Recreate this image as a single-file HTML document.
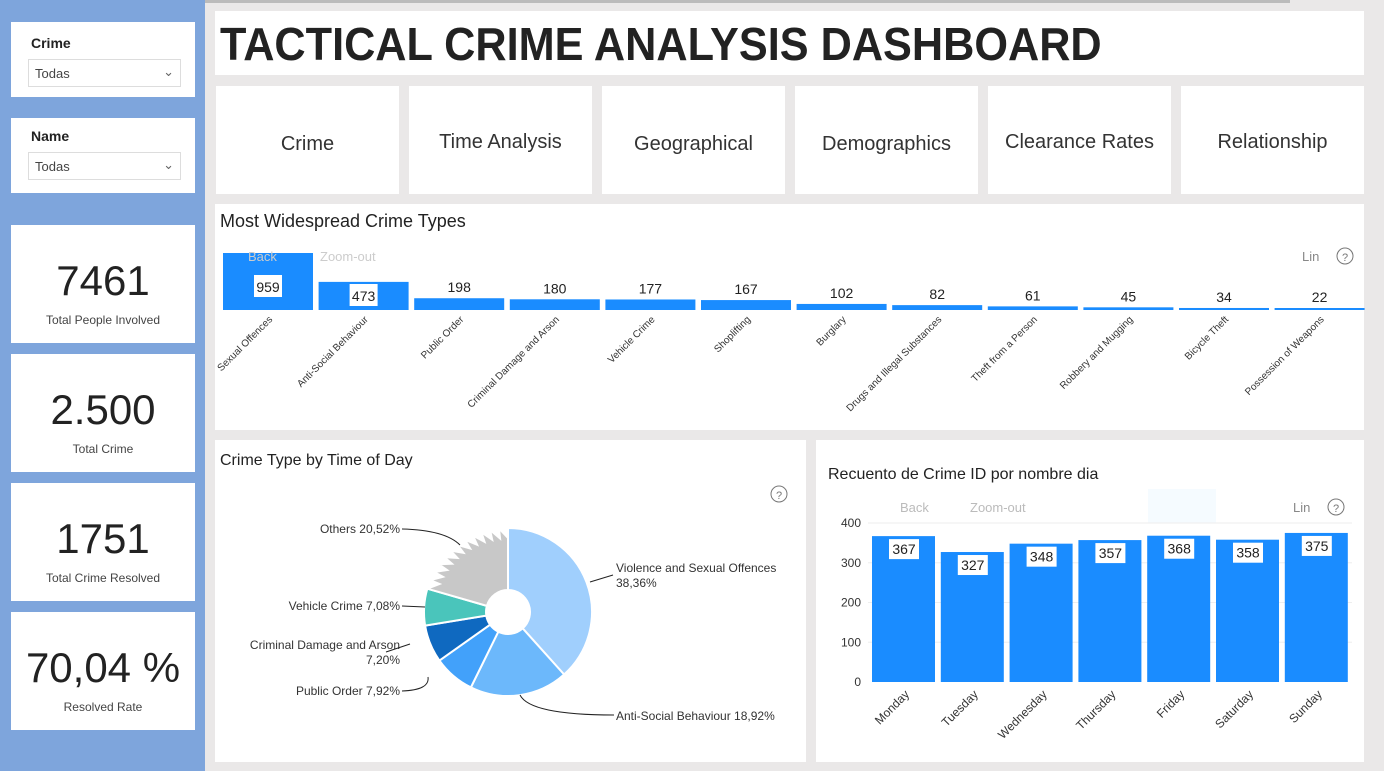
<!DOCTYPE html>
<html><head><meta charset="utf-8"><style>
body{margin:0;width:1384px;height:771px;background:#eae8e8;font-family:"Liberation Sans",sans-serif;position:relative;overflow:hidden}
.abs{position:absolute}
.card{position:absolute;background:#fff}
.side{position:absolute;left:0;top:0;width:205px;height:771px;background:#7ea5dc}
.sl{font-size:14px;font-weight:bold;color:#222}
.dd{position:absolute;left:17px;width:153px;height:28px;border:1px solid #ddd;font-size:13px;color:#444;line-height:28px;box-sizing:border-box;padding-left:6px}
.kpi{text-align:center}
.kpi .v{font-size:42px;color:#222;margin-top:32px;font-family:"Liberation Sans",sans-serif}
.kpi .l{font-size:12px;color:#444;margin-top:8px}
.nav{font-size:20px;color:#333;text-align:center}
</style></head><body>
<div class="side"></div>
<div class="card" style="left:11px;top:22px;width:184px;height:75px"><div class="sl abs" style="left:20px;top:13px">Crime</div><div class="dd" style="top:37px">Todas<span style="position:absolute;right:6px;top:-2px;color:#666">&#8964;</span></div></div>
<div class="card" style="left:11px;top:118px;width:184px;height:75px"><div class="sl abs" style="left:20px;top:10px">Name</div><div class="dd" style="top:34px">Todas<span style="position:absolute;right:6px;top:-2px;color:#666">&#8964;</span></div></div>
<div class="card kpi" style="left:11px;top:225px;width:184px;height:118px"><div class="v">7461</div><div class="l">Total People Involved</div></div>
<div class="card kpi" style="left:11px;top:354px;width:184px;height:118px"><div class="v">2.500</div><div class="l">Total Crime</div></div>
<div class="card kpi" style="left:11px;top:483px;width:184px;height:118px"><div class="v">1751</div><div class="l">Total Crime Resolved</div></div>
<div class="card kpi" style="left:11px;top:612px;width:184px;height:118px"><div class="v">70,04 %</div><div class="l">Resolved Rate</div></div>
<div class="abs" style="left:205px;top:0;width:1085px;height:3px;background:#bbb"></div>
<div class="card" style="left:215px;top:11px;width:1149px;height:64px"><div class="abs" style="left:5px;top:6px;font-size:46px;font-weight:bold;color:#222;transform:scaleX(0.94);transform-origin:0 0;white-space:nowrap">TACTICAL CRIME ANALYSIS DASHBOARD</div></div>
<div class="card nav" style="left:216px;top:86px;width:183px;height:108px;line-height:116px">Crime</div>
<div class="card nav" style="left:409px;top:86px;width:183px;height:108px;line-height:112px">Time Analysis</div>
<div class="card nav" style="left:602px;top:86px;width:183px;height:108px;line-height:116px">Geographical</div>
<div class="card nav" style="left:795px;top:86px;width:183px;height:108px;line-height:116px">Demographics</div>
<div class="card nav" style="left:988px;top:86px;width:183px;height:108px;line-height:112px">Clearance Rates</div>
<div class="card nav" style="left:1181px;top:86px;width:183px;height:108px;line-height:112px">Relationship</div>
<div class="card" style="left:215px;top:204px;width:1149px;height:226px"></div>
<div class="card" style="left:215px;top:440px;width:591px;height:322px"></div>
<div class="card" style="left:816px;top:440px;width:548px;height:322px"></div>
<svg class="abs" style="left:0;top:0" width="1384" height="771" font-family="Liberation Sans,sans-serif">
<text x="220" y="227" font-size="18" fill="#222">Most Widespread Crime Types</text>
<g fill="#1a8cff" id="bars"></g>
<text x="248" y="261" font-size="13" fill="#ccc">Back</text><text x="320" y="261" font-size="13" fill="#ccc">Zoom-out</text>
<text x="1302" y="261" font-size="13" fill="#888">Lin</text><circle cx="1345" cy="256" r="8" fill="none" stroke="#777"/><text x="1345" y="261" font-size="11" fill="#777" text-anchor="middle">?</text>
<text x="220" y="465" font-size="16" fill="#222">Crime Type by Time of Day</text>
<circle cx="779" cy="494" r="8" fill="none" stroke="#777"/><text x="779" y="499" font-size="11" fill="#777" text-anchor="middle">?</text>
<g id="pie"></g>
<g font-size="12" fill="#333">
<text x="400" y="533" text-anchor="end">Others 20,52%</text>
<text x="400" y="610" text-anchor="end">Vehicle Crime 7,08%</text>
<text x="400" y="649" text-anchor="end">Criminal Damage and Arson</text>
<text x="400" y="664" text-anchor="end">7,20%</text>
<text x="400" y="695" text-anchor="end">Public Order 7,92%</text>
<text x="616" y="572">Violence and Sexual Offences</text>
<text x="616" y="587">38,36%</text>
<text x="616" y="720">Anti-Social Behaviour 18,92%</text>
</g>
<g fill="none" stroke="#222" stroke-width="1">
<path d="M402 529 Q445 530 460 545"/><path d="M402 606 L425 607"/><path d="M386 652 L410 644"/><path d="M402 691 Q430 690 428 677"/><path d="M613 575 L590 582"/><path d="M614 715 Q530 715 520 695"/>
</g>
<text x="828" y="479" font-size="16" fill="#222">Recuento de Crime ID por nombre dia</text>
<rect x="1148" y="489" width="68" height="34" fill="#f5fbff"/>
<text x="900" y="512" font-size="13" fill="#bbb">Back</text><text x="970" y="512" font-size="13" fill="#bbb">Zoom-out</text>
<text x="1293" y="512" font-size="13" fill="#888">Lin</text><circle cx="1336" cy="507" r="8" fill="none" stroke="#777"/><text x="1336" y="512" font-size="11" fill="#777" text-anchor="middle">?</text>
<g id="r"></g>
</svg>
<script>
const ns="http://www.w3.org/2000/svg";
function el(p,t,a,txt){const e=document.createElementNS(ns,t);for(const k in a)e.setAttribute(k,a[k]);if(txt!=null)e.textContent=txt;p.appendChild(e);return e;}
const b=document.getElementById('bars');
const names=["Sexual Offences","Anti-Social Behaviour","Public Order","Criminal Damage and Arson","Vehicle Crime","Shoplifting","Burglary","Drugs and Illegal Substances","Theft from a Person","Robbery and Mugging","Bicycle Theft","Possession of Weapons"];
const vals=[959,473,198,180,177,167,102,82,61,45,34,22];
vals.forEach((v,i)=>{const x=223+i*95.6,h=Math.max(2,v*57/959),y=310-h;
el(b,'rect',{x:x,y:y,width:90,height:h});
if(i<2){el(b,'rect',{x:x+31,y:i?284:275,width:28,height:22,fill:'#fff'});el(b,'text',{x:x+45,y:i?301:292,'font-size':14,fill:'#222','text-anchor':'middle'},v);}
else el(b,'text',{x:x+45,y:y-6,'font-size':14,fill:'#222','text-anchor':'middle'},v);
el(b,'text',{x:x+50,y:320,'font-size':10,fill:'#333','text-anchor':'end',transform:`rotate(-45 ${x+50} 320)`},names[i]);});
const pie=document.getElementById('pie');const cx=508,cy=612,R=84,r0=22;
const sl=[[38.36,'#a0cffd'],[18.92,'#6cb8fb'],[7.92,'#42a1fa'],[7.20,'#0f69c0'],[7.08,'#4ac5bb']];
let a=0;function pt(ang,rr){const t=(ang-90)*Math.PI/180;return [cx+rr*Math.cos(t),cy+rr*Math.sin(t)];}
sl.forEach(([p,c])=>{const a2=a+p*3.6;const [x1,y1]=pt(a,R),[x2,y2]=pt(a2,R),[x3,y3]=pt(a2,r0),[x4,y4]=pt(a,r0);const lg=(a2-a)>180?1:0;
el(pie,'path',{d:`M${x1} ${y1} A${R} ${R} 0 ${lg} 1 ${x2} ${y2} L${x3} ${y3} A${r0} ${r0} 0 ${lg} 0 ${x4} ${y4}Z`,fill:c,stroke:'#fff','stroke-width':2});a=a2;});
let d='';const [sx,sy]=pt(a,r0);d=`M${sx} ${sy}`;const n=12;for(let i=0;i<=n;i++){const ang=a+(360-a)*i/n;const [x,y]=pt(ang,R);const [xi,yi]=pt(ang,R-10);d+=` L${xi} ${yi} L${x} ${y}`;}
const [ex,ey]=pt(360,r0);d+=` L${ex} ${ey} A${r0} ${r0} 0 0 0 ${sx} ${sy}Z`;
el(pie,'path',{d:d,fill:'#c8c8c8',stroke:'#fff','stroke-width':2});
const rg=document.getElementById('r');
[0,100,200,300,400].forEach(v=>{const y=682-v*159/400;el(rg,'text',{x:861,y:y+4,'font-size':12,fill:'#333','text-anchor':'end'},v);if(v)el(rg,'line',{x1:868,x2:1352,y1:y,y2:y,stroke:'#eee'});});
const days=["Monday","Tuesday","Wednesday","Thursday","Friday","Saturday","Sunday"],dv=[367,327,348,357,368,358,375];
dv.forEach((v,i)=>{const x=872+i*68.8,h=v*159/400,y=682-h;el(rg,'rect',{x:x,y:y,width:63,height:h,fill:'#1a8cff'});
el(rg,'rect',{x:x+17,y:y+3,width:30,height:20,fill:'#fff'});el(rg,'text',{x:x+32,y:y+18,'font-size':14,fill:'#222','text-anchor':'middle'},v);
el(rg,'text',{x:x+38,y:695,'font-size':12,fill:'#333','text-anchor':'end',transform:`rotate(-45 ${x+38} 695)`},days[i]);});
</script>
</body></html>
